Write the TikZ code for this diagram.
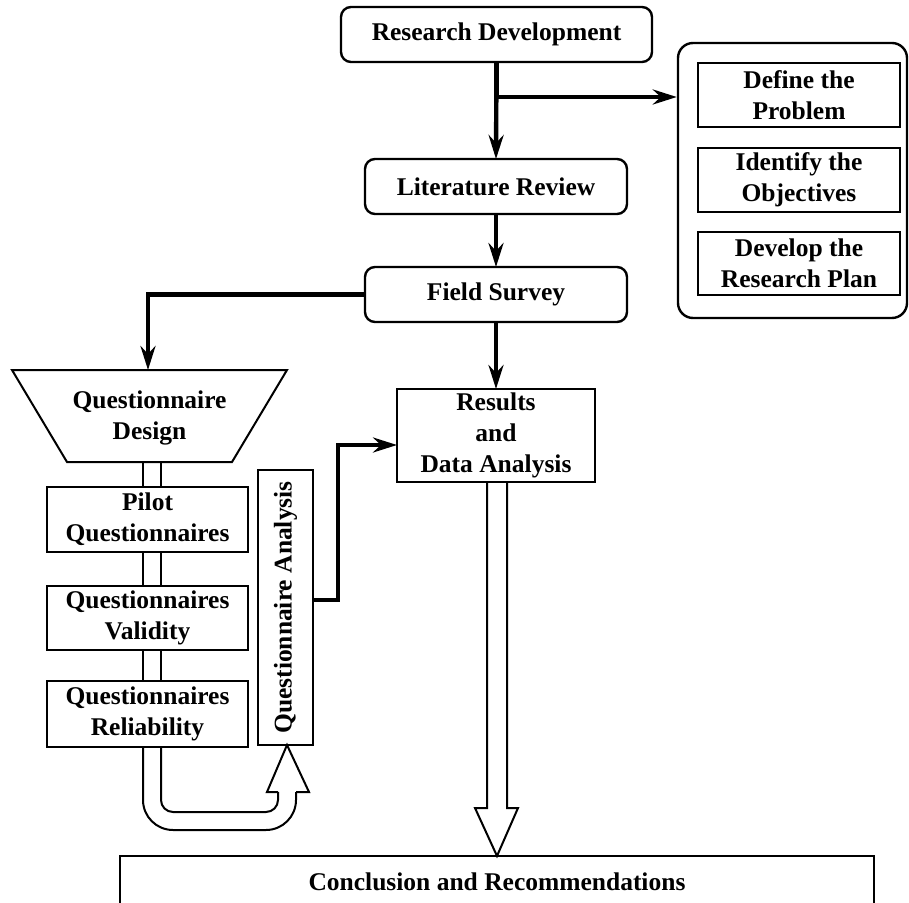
\documentclass[tikz,border=0pt]{standalone}
\usepackage{fontspec}
\setmainfont{Liberation Serif}
\usetikzlibrary{arrows.meta}
\begin{document}
\begin{tikzpicture}[x=0.5pt,y=-0.5pt,
  lbl/.style={font=\fontsize{12.75}{15.5}\selectfont\bfseries, align=center, inner sep=0pt, outer sep=0pt},
  rbox/.style={lbl, draw, line width=1.2pt, rounded corners=5pt},
  sbox/.style={lbl, draw, line width=1pt},
  tbox/.style={lbl, draw, line width=0.75pt},
  flow/.style={line width=2.2pt, -{Stealth[length=12pt,width=7.5pt,inset=4pt]}},
  pipe/.style={line width=1pt, line join=miter}
]
\useasboundingbox (0,0) rectangle (909,903);
\clip (0,0) rectangle (909,903);

% main column
\node[rbox, minimum width=155.5pt, minimum height=27.5pt] (rd) at (496.5,34.5) {Research Development};
\node[rbox, minimum width=131pt, minimum height=27.5pt] (lr) at (496,186.5) {Literature Review};
\node[rbox, minimum width=131pt, minimum height=27.5pt] (fs) at (496,294.5) {Field Survey};
\node[sbox, minimum width=99pt, minimum height=46.5pt] (res) at (496,435.5) {Results\\and\\Data Analysis};

% planning panel
\node[draw, line width=1.2pt, rounded corners=7.5pt, minimum width=114.5pt, minimum height=137.5pt, inner sep=0pt] (panel) at (792.5,180.5) {};
\node[tbox, minimum width=101pt, minimum height=32pt] (p1) at (799,95) {Define the\\Problem};
\node[tbox, minimum width=101pt, minimum height=32pt] (p2) at (799,180) {Identify the\\Objectives};
\node[tbox, minimum width=101pt, minimum height=31.5pt] (p3) at (799,263.5) {Develop the\\Research Plan};

% questionnaire column
\draw[line width=1pt, line join=miter] (12,370) -- (287,370) -- (232,462) -- (67,462) -- cycle;
\node[lbl] (qd) at (149.5,418) {Questionnaire\\Design};
\coordinate (qdtop) at (148,370);
\coordinate (qdb) at (152,462);
\node[sbox, minimum width=100.5pt, minimum height=32.5pt] (pilot) at (147.5,519.5) {Pilot\\Questionnaires};
\node[sbox, minimum width=100.5pt, minimum height=32pt] (valid) at (147.5,618) {Questionnaires\\Validity};
\node[sbox, minimum width=100.5pt, minimum height=33pt] (relia) at (147.5,714) {Questionnaires\\Reliability};
\node[sbox, minimum width=27.5pt, minimum height=137.5pt] (qa) at (285.5,607.5) {\rotatebox{90}{Questionnaire Analysis}};

% closing box, running past the lower edge
\node[sbox, minimum width=377pt, minimum height=26pt] (concl) at (497,882) {Conclusion and Recommendations};

% flow arrows
\coordinate (br) at (496.5,97);
\draw[flow] (rd.south) -- (lr.north);
\draw[line width=2.2pt] (rd.south) -- (br);
\draw[flow] (br) -- (br -| panel.west);
\draw[flow] (lr.south) -- (fs.north);
\draw[flow] (fs.south) -- (res.north);
\draw[flow] (fs.west) -| (qdtop);
\draw[flow] (qa.east |- 0,600) -- (338,600) |- (res.west |- 0,445);

% hollow pipe through the questionnaire steps
\foreach \s/\t in {qdb/pilot.north, pilot.south/valid.north, valid.south/relia.north}{
  \draw[pipe] ([xshift=-4.5pt]qdb |- \s) -- ([xshift=-4.5pt]qdb |- \t);
  \draw[pipe] ([xshift=4.5pt]qdb |- \s) -- ([xshift=4.5pt]qdb |- \t);
}

% hollow U-turn arrow into the analysis box
\draw[pipe, rounded corners=15pt] ([xshift=-4.5pt]qdb |- relia.south) -- (143,830) -- (296,830) -- (296,792);
\draw[pipe, rounded corners=6pt] ([xshift=4.5pt]qdb |- relia.south) -- (161,812) -- (278,812) -- (278,792);
\draw[pipe] (278,792) -- (267,792) -- (287,0 |- qa.south) -- (309,792) -- (296,792);

% hollow arrow down to the conclusion
\draw[pipe] (487,0 |- res.south) -- (487,808) -- (475,808) -- (497,0 |- concl.north)
  -- (518,808) -- (507,808) -- (507,0 |- res.south);
\end{tikzpicture}
\end{document}
